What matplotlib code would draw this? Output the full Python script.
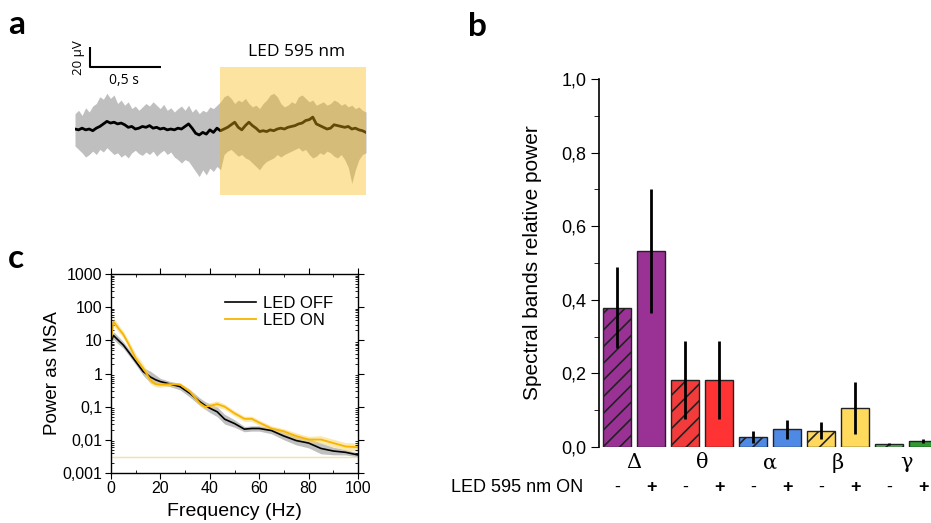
import numpy as np
import matplotlib
matplotlib.use("Agg")
import matplotlib.pyplot as plt
from matplotlib.patches import Rectangle
from matplotlib.ticker import FixedLocator, LogLocator, NullFormatter, MultipleLocator

plt.rcParams["font.family"] = ["Liberation Sans", "DejaVu Sans"]
plt.rcParams["hatch.linewidth"] = 1.2

W, H = 931, 523

# --- panel a: raw traces (uV), sampled every 25 ms ---
trace_dt = 0.025
trace_mean = [0, -1, 1, -1, 0, -2, 1, 3, 6, 9, 7, 8, 6, 7, 5, 2, 3, 0, 1, 3,
              2, 4, 1, 2, 0, 1, -1, 0, -1, 1, 0, 3, 6, 1, -5, -7, -4, -6, -1, -4,
              1, -2, 0, 2, 5, 8, 2, -1, 4, 8, 4, 1, -3, -2, -3, -1, -2, 0, 1, 0,
              2, 3, 4, 6, 7, 10, 11, 14, 6, 4, 2, 0, 1, 5, 4, 3, 2, 3, 0, 1,
              -1, -2, -4]
trace_upper = [18, 22, 16, 25, 20, 27, 30, 38, 35, 42, 36, 40, 30, 34, 28, 32, 24, 27, 22, 26,
               30, 27, 32, 28, 24, 29, 22, 25, 20, 24, 27, 22, 28, 20, 24, 18, 22, 20, 26, 24,
               28, 32, 38, 40, 36, 30, 34, 32, 36, 30, 26, 28, 24, 30, 34, 40, 42, 38, 30, 26,
               28, 32, 30, 38, 40, 36, 32, 34, 28, 30, 32, 28, 30, 34, 32, 28, 30, 26, 28, 24,
               26, 22, 20]
trace_lower = [-20, -24, -28, -33, -30, -26, -30, -24, -27, -22, -26, -30, -28, -33, -30, -34, -28, -25, -29, -31,
               -27, -30, -26, -32, -28, -25, -30, -27, -33, -36, -40, -36, -38, -44, -50, -56, -48, -54, -46, -50,
               -44, -48, -30, -26, -24, -28, -32, -30, -34, -36, -40, -44, -48, -42, -38, -36, -34, -30, -33, -30,
               -28, -26, -24, -22, -26, -24, -30, -34, -32, -28, -30, -26, -28, -32, -34, -30, -36, -45, -64, -48,
               -36, -30, -28]
led_on_start = 1.02   # s
trace_end = 2.05      # s

# --- panel c: power spectra ---
freq = [0, 1, 3, 5, 7, 10, 13, 16, 18, 20, 24, 28, 32, 36, 38, 40, 43, 46, 50, 54,
        57, 60, 65, 70, 75, 80, 85, 90, 95, 100]
power_off = [9, 14, 10, 7.2, 4.6, 2.3, 1.15, 0.78, 0.65, 0.57, 0.48, 0.40, 0.25, 0.14, 0.11, 0.09,
             0.07, 0.042, 0.031, 0.021, 0.022, 0.022, 0.019, 0.013, 0.0095, 0.008, 0.0055, 0.0046,
             0.0042, 0.0035]
spread_off = [1.3, 1.3, 1.3, 1.25, 1.25, 1.25, 1.3, 1.5, 1.4, 1.25, 1.2, 1.25, 1.3, 1.3, 1.3, 1.35,
              1.4, 1.4, 1.3, 1.2, 1.2, 1.2, 1.25, 1.3, 1.35, 1.4, 1.45, 1.3, 1.2, 1.15]
power_on = [10, 37, 23, 15, 8, 2.9, 1.45, 0.63, 0.48, 0.46, 0.48, 0.46, 0.28, 0.126, 0.10, 0.105,
            0.12, 0.10, 0.063, 0.043, 0.043, 0.033, 0.022, 0.018, 0.013, 0.0102, 0.0102, 0.008,
            0.0063, 0.006]
spread_on = [1.25, 1.35, 1.3, 1.25, 1.3, 1.35, 1.35, 1.3, 1.2, 1.2, 1.15, 1.15, 1.2, 1.2, 1.25, 1.25,
             1.25, 1.2, 1.2, 1.2, 1.2, 1.2, 1.2, 1.2, 1.25, 1.25, 1.3, 1.3, 1.3, 1.35]
noise_floor = 0.0031
ytick_vals = [0.001, 0.01, 0.1, 1, 10, 100, 1000]
ytick_text = ["0,001", "0,01", "0,1", "1", "10", "100", "1000"]

# --- panel b: relative band power, LED off (-) / on (+) ---
bands = ["Δ", "θ", "α", "β", "γ"]
rel_off = [0.378, 0.183, 0.028, 0.044, 0.008]
err_off = [0.110, 0.106, 0.016, 0.023, 0.002]
rel_on = [0.533, 0.183, 0.048, 0.106, 0.016]
err_on = [0.168, 0.106, 0.025, 0.070, 0.006]
color_off = ["#9A3296", "#F23B3B", "#4F89E6", "#FFD75C", "#5FB35F"]
color_on = ["#9A3296", "#FF3333", "#4F89E6", "#FFDA5C", "#2F9A2F"]


def px_axes(fig, left, top, right, bottom):
    return fig.add_axes([left / W, 1 - bottom / H, (right - left) / W, (bottom - top) / H])


fig = plt.figure(figsize=(W / 100, H / 100), dpi=100)

# panel letters
for letter, (x, y) in {"a": (8, 24), "b": (468, 26), "c": (8, 258)}.items():
    fig.text(x / W, 1 - y / H, letter, fontsize=24, fontweight="bold",
             family=["Lato", "DejaVu Sans"], va="center", ha="left")

# ---------------- a ----------------
ax_a = px_axes(fig, 75, 40, 366, 200)
t = np.arange(len(trace_mean)) * trace_dt
ax_a.fill_between(t, trace_lower, trace_upper, color="#BFBFBF", lw=0)
ax_a.plot(t, trace_mean, color="black", lw=2)
ax_a.add_patch(Rectangle((led_on_start, -77.6), trace_end - led_on_start, 150.5,
                         facecolor="#FAB912", alpha=0.4, lw=0, zorder=5))
# scale bar 0.5 s / 20 uV
ax_a.plot([0.106, 0.106, 0.606], [96, 73, 73], color="black", lw=1.5, solid_capstyle="butt")
ax_a.text(0.345, 57, "0,5 s", fontsize=10, ha="center", va="center",
          family=["Open Sans", "DejaVu Sans"])
ax_a.text(0.025, 84, "20 µV", fontsize=9.5, ha="center", va="center", rotation=90,
          family=["Open Sans", "DejaVu Sans"])
ax_a.text(1.56, 90, "LED 595 nm", fontsize=12.5, ha="center", va="center",
          family=["Open Sans", "DejaVu Sans"])
ax_a.set_xlim(0, trace_end)
ax_a.set_ylim(-83.5, 104.7)
ax_a.axis("off")

# ---------------- c ----------------
ax_c = px_axes(fig, 111, 274, 358, 473)
f = np.array(freq, dtype=float)
p_off = np.array(power_off)
p_on = np.array(power_on)
s_off = np.array(spread_off)
s_on = np.array(spread_on)
ax_c.fill_between(f, p_off / s_off, p_off * s_off, color="#B4B4B4", lw=0, alpha=0.85)
ax_c.fill_between(f, p_on / s_on, p_on * s_on, color="#FBD56A", lw=0, alpha=0.55)
ax_c.plot(f, p_off, color="black", lw=1.2, label="LED OFF")
ax_c.plot(f, p_on, color="#F7B500", lw=1.3, label="LED ON")
ax_c.axhline(noise_floor, color="#F6DFA0", lw=1)
ax_c.set_yscale("log")
ax_c.set_xlim(0, 100)
ax_c.set_ylim(0.001, 1000)
ax_c.yaxis.set_major_locator(FixedLocator(ytick_vals))
ax_c.set_yticklabels(ytick_text)
ax_c.yaxis.set_minor_locator(LogLocator(base=10, subs=np.arange(2, 10)))
ax_c.yaxis.set_minor_formatter(NullFormatter())
ax_c.xaxis.set_major_locator(MultipleLocator(20))
ax_c.xaxis.set_minor_locator(MultipleLocator(10))
ax_c.tick_params(which="major", direction="out", length=4, labelsize=11.5, pad=2)
ax_c.tick_params(which="minor", direction="in", length=2.5)
ax_c.tick_params(which="both", right=True, top=True)
for sp in ax_c.spines.values():
    sp.set_linewidth(1.0)
ax_c.set_ylabel("Power as MSA", fontsize=13.5, labelpad=1)
ax_c.set_xlabel("Frequency (Hz)", fontsize=14, labelpad=5)
ax_c.legend(loc="upper left", bbox_to_anchor=(0.46, 0.89), frameon=False, fontsize=12,
            handlelength=1.9, handletextpad=0.4, labelspacing=0.1, borderpad=0,
            borderaxespad=0)

# ---------------- b ----------------
ax_b = px_axes(fig, 599, 79, 931, 447)
pos_off = np.arange(len(bands)) * 2
pos_on = pos_off + 1
ax_b.bar(pos_off, rel_off, width=0.82, color=color_off, edgecolor="#222222", lw=1,
         hatch="//", zorder=2)
ax_b.bar(pos_on, rel_on, width=0.82, color=color_on, edgecolor="#222222", lw=1, zorder=2)
ax_b.errorbar(pos_off, rel_off, yerr=err_off, fmt="none", ecolor="black", elinewidth=2,
              capsize=0, zorder=3)
ax_b.errorbar(pos_on, rel_on, yerr=err_on, fmt="none", ecolor="black", elinewidth=2,
              capsize=0, zorder=3)
ax_b.set_xlim(-0.53, 9.235)
ax_b.set_ylim(0, 1.0)
ax_b.yaxis.set_major_locator(MultipleLocator(0.2))
ax_b.yaxis.set_minor_locator(MultipleLocator(0.1))
ax_b.set_yticklabels([f"{v:.1f}".replace(".", ",") for v in ax_b.get_yticks()])
ax_b.tick_params(axis="y", which="major", direction="out", length=6, labelsize=13, pad=3)
ax_b.tick_params(axis="y", which="minor", direction="out", length=3.5)
ax_b.set_xticks([])
for side in ("top", "right", "bottom"):
    ax_b.spines[side].set_visible(False)
ax_b.spines["left"].set_linewidth(1.2)
ax_b.set_ylabel("Spectral bands relative power", fontsize=15, labelpad=14)
for i, band in enumerate(bands):
    ax_b.text(pos_off[i] + 0.5, -0.043, band, transform=ax_b.get_xaxis_transform(),
              ha="center", va="center", fontsize=15, family=["DejaVu Serif"], clip_on=False)
for p in pos_off:
    ax_b.text(p, -0.109, "-", transform=ax_b.get_xaxis_transform(), ha="center",
              va="center", fontsize=13, clip_on=False)
for p in pos_on:
    ax_b.text(p, -0.109, "+", transform=ax_b.get_xaxis_transform(), ha="center",
              va="center", fontsize=13, fontweight="bold", clip_on=False)
ax_b.text(-1.0, -0.109, "LED 595 nm ON", transform=ax_b.get_xaxis_transform(), ha="right",
          va="center", fontsize=13, clip_on=False)

fig.savefig("out.png", dpi=100)
